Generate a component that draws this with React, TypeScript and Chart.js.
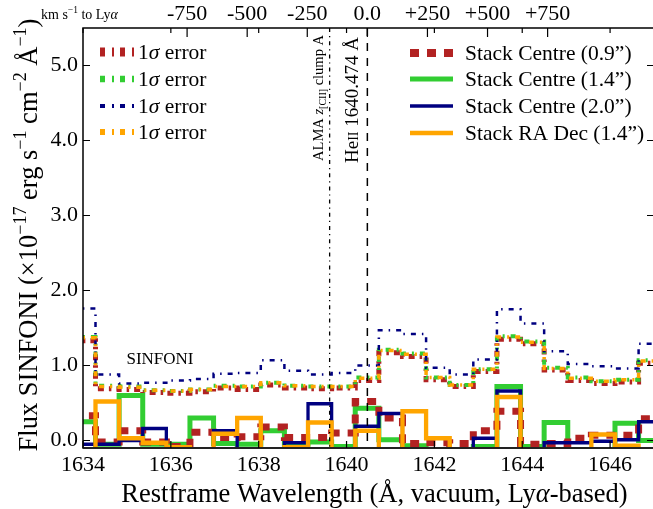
import { useEffect, useRef } from 'react';
import { Chart, registerables } from 'chart.js';

Chart.register(...registerables);

// Rebinned restframe wavelength grid (Å): left edge of the first bin and bin width
const BIN_START = 1633.747;
const BIN_WIDTH = 0.5376;

// Flux per bin (10^-17 erg s^-1 cm^-2 Å^-1)
const fluxCentre09 = [0.33, -0.02, 0.13, -0.02, -0.08, 0.11, 0.04, 0.05, 0.18, 0.04, 0.04, 0.10, 0.52, 0.30, -0.04, -0.03, -0.04, 0.13, 0.39, -0.05, -0.04, 0.03, 0.07, 0.07, 0.29];
const fluxCentre14 = [0.25, -0.05, 0.60, -0.05, -0.05, 0.30, -0.04, -0.05, 0.13, -0.05, -0.02, -0.08, 0.43, 0.01, -0.07, -0.12, -0.12, -0.08, 0.72, -0.08, 0.24, -0.12, -0.12, 0.23, 0.00];
const fluxCentre20 = [-0.05, -0.05, 0.00, 0.16, -0.12, -0.12, 0.13, -0.12, -0.12, -0.03, 0.49, -0.12, 0.19, 0.36, -0.12, -0.12, -0.12, 0.03, 0.66, -0.12, -0.03, -0.03, -0.01, 0.01, 0.25];
const fluxRADec14 = [-0.12, 0.52, 0.03, -0.03, -0.09, -0.12, 0.09, 0.30, -0.12, -0.09, 0.24, -0.12, 0.13, -0.12, 0.39, 0.03, -0.12, -0.12, 0.58, -0.12, -0.12, -0.12, 0.08, -0.07, -0.12];

// 1-sigma noise per bin
const errCentre09 = [1.33, 0.69, 0.68, 0.64, 0.63, 0.65, 0.70, 0.68, 0.74, 0.70, 0.69, 0.70, 0.80, 1.17, 1.12, 0.81, 0.72, 0.92, 1.35, 1.29, 0.94, 0.80, 0.76, 0.78, 1.03];
const errCentre14 = [1.38, 0.73, 0.72, 0.67, 0.66, 0.68, 0.73, 0.72, 0.77, 0.73, 0.72, 0.72, 0.84, 1.21, 1.16, 0.84, 0.74, 0.95, 1.39, 1.32, 0.97, 0.84, 0.79, 0.81, 1.07];
const errCentre20 = [1.76, 0.88, 0.76, 0.77, 0.80, 0.82, 0.89, 0.90, 1.07, 0.93, 0.88, 0.90, 1.00, 1.47, 1.42, 0.97, 0.88, 1.08, 1.75, 1.56, 1.19, 1.02, 0.99, 0.96, 1.29];
const errRADec14 = [1.37, 0.72, 0.71, 0.67, 0.66, 0.68, 0.72, 0.72, 0.77, 0.73, 0.72, 0.72, 0.83, 1.20, 1.15, 0.84, 0.74, 0.95, 1.38, 1.31, 0.96, 0.83, 0.79, 0.81, 1.06];

// Axes
const X_MIN = 1634;
const X_MAX = 1647;
const Y_MIN = -0.1;
const Y_MAX = 5.5;
const X_TICKS = [1634, 1636, 1638, 1640, 1642, 1644, 1646];
const Y_TICKS = [0, 1, 2, 3, 4, 5];
const VEL_TICKS = [-750, -500, -250, 0, 250, 500, 750];

// Reference lines
const HEII_WAVE = 1640.474;
const ALMA_WAVE = 1639.615;
const C_KMS = 299792.458;

const FIREBRICK = '#b22222';
const LIMEGREEN = '#32cd32';
const NAVY = '#000080';
const ORANGE = '#ffa500';
const FONT = '"Liberation Serif", "DejaVu Serif", serif';

const toVel = (lam: number) => (C_KMS * (lam - HEII_WAVE)) / HEII_WAVE;

const binEdges = Array.from({ length: fluxCentre09.length + 1 }, (_, i) => BIN_START + i * BIN_WIDTH);
const toSteps = (vals: number[]) => [
  ...vals.map((v, i) => ({ x: binEdges[i], y: v })),
  { x: binEdges[vals.length], y: vals[vals.length - 1] },
];

type Seg = { t: string; size: number; dy?: number; italic?: boolean };

function richWidth(ctx: CanvasRenderingContext2D, segs: Seg[]) {
  let w = 0;
  for (const s of segs) {
    ctx.font = `${s.italic ? 'italic ' : ''}${s.size}px ${FONT}`;
    w += ctx.measureText(s.t).width;
  }
  return w;
}

function drawRich(ctx: CanvasRenderingContext2D, segs: Seg[], x: number, y: number, align: 'left' | 'center' | 'right') {
  const w = richWidth(ctx, segs);
  let cx = align === 'left' ? x : align === 'center' ? x - w / 2 : x - w;
  ctx.textAlign = 'left';
  for (const s of segs) {
    ctx.font = `${s.italic ? 'italic ' : ''}${s.size}px ${FONT}`;
    ctx.fillText(s.t, cx, y + (s.dy || 0));
    cx += ctx.measureText(s.t).width;
  }
}

type LegendItem = { color: string; width: number; dash: number[]; label: Seg[] };

const sigma = (): Seg[] => [
  { t: '1', size: 21.5 },
  { t: 'σ', size: 21.5, italic: true },
  { t: ' error', size: 21.5 },
];

const errLegend: LegendItem[] = [
  { color: FIREBRICK, width: 9, dash: [5, 7, 2, 6], label: sigma() },
  { color: LIMEGREEN, width: 6.5, dash: [5, 7, 2, 6], label: sigma() },
  { color: NAVY, width: 4, dash: [5, 7, 2, 6], label: sigma() },
  { color: ORANGE, width: 6, dash: [5, 7, 2, 6], label: sigma() },
];

const fluxLegend: LegendItem[] = [
  { color: FIREBRICK, width: 8, dash: [9, 8], label: [{ t: 'Stack Centre (0.9”)', size: 21.5 }] },
  { color: LIMEGREEN, width: 5, dash: [], label: [{ t: 'Stack Centre (1.4”)', size: 21.5 }] },
  { color: NAVY, width: 3.3, dash: [], label: [{ t: 'Stack Centre (2.0”)', size: 21.5 }] },
  { color: ORANGE, width: 4.3, dash: [], label: [{ t: 'Stack RA Dec (1.4”)', size: 21.5 }] },
];

function drawLegend(ctx: CanvasRenderingContext2D, items: LegendItem[], x0: number, x1: number, tx: number, rows: number[]) {
  items.forEach((it, i) => {
    const y = rows[i];
    ctx.save();
    ctx.strokeStyle = it.color;
    ctx.lineWidth = it.width;
    ctx.setLineDash(it.dash);
    ctx.beginPath();
    ctx.moveTo(x0, y);
    ctx.lineTo(x1, y);
    ctx.stroke();
    ctx.restore();
    ctx.fillStyle = '#000';
    ctx.textBaseline = 'middle';
    drawRich(ctx, it.label, tx, y + 1, 'left');
  });
}

const decorations = {
  id: 'decorations',
  afterDatasetsDraw(chart: any) {
    const { ctx, chartArea: a, scales } = chart;
    const xs = scales.x;
    const ys = scales.y;
    const vs = scales.xTop;
    ctx.save();

    // ALMA [CII] redshift and HeII line
    const xa = xs.getPixelForValue(ALMA_WAVE);
    const xh = xs.getPixelForValue(HEII_WAVE);
    ctx.strokeStyle = '#000';
    ctx.lineWidth = 1.3;
    ctx.setLineDash([4, 4, 1.2, 4]);
    ctx.beginPath();
    ctx.moveTo(xa, a.top);
    ctx.lineTo(xa, a.bottom);
    ctx.stroke();
    ctx.setLineDash([8, 7]);
    ctx.lineWidth = 1.5;
    ctx.beginPath();
    ctx.moveTo(xh, a.top);
    ctx.lineTo(xh, a.bottom);
    ctx.stroke();
    ctx.setLineDash([]);

    ctx.fillStyle = '#000';
    ctx.textBaseline = 'alphabetic';
    ctx.save();
    ctx.translate(xa - 7, 35);
    ctx.rotate(-Math.PI / 2);
    drawRich(
      ctx,
      [
        { t: 'ALMA ', size: 14.5 },
        { t: 'z', size: 14.5, italic: true },
        { t: '[CII]', size: 10, dy: 3 },
        { t: ' clump A', size: 14.5 },
      ],
      0,
      0,
      'right'
    );
    ctx.restore();
    ctx.save();
    ctx.translate(xh - 9, 37);
    ctx.rotate(-Math.PI / 2);
    drawRich(
      ctx,
      [
        { t: 'He', size: 19 },
        { t: 'II', size: 14 },
        { t: ' 1640.474 Å', size: 19 },
      ],
      0,
      0,
      'right'
    );
    ctx.restore();

    // instrument label
    drawRich(ctx, [{ t: 'SINFONI', size: 17 }], 160, 364, 'center');

    // frame and inward ticks
    ctx.strokeStyle = '#000';
    ctx.lineWidth = 1.5;
    ctx.strokeRect(a.left, a.top, a.right - a.left, a.bottom - a.top);
    ctx.lineWidth = 2;
    ctx.strokeStyle = '#222';
    ctx.beginPath();
    ctx.moveTo(a.left, a.bottom);
    ctx.lineTo(a.right, a.bottom);
    ctx.stroke();
    ctx.strokeStyle = '#000';
    ctx.lineWidth = 1.2;
    ctx.beginPath();
    for (const v of X_TICKS) {
      const px = xs.getPixelForValue(v);
      ctx.moveTo(px, a.bottom);
      ctx.lineTo(px, a.bottom - 7);
      ctx.moveTo(px, a.top);
      ctx.lineTo(px, a.top + 5);
    }
    for (const v of VEL_TICKS) {
      const px = vs.getPixelForValue(v);
      ctx.moveTo(px, a.top);
      ctx.lineTo(px, a.top + 9);
    }
    for (const v of Y_TICKS) {
      const py = ys.getPixelForValue(v);
      ctx.moveTo(a.left, py);
      ctx.lineTo(a.left + 7, py);
      ctx.moveTo(a.right, py);
      ctx.lineTo(a.right - 7, py);
    }
    ctx.stroke();

    // legends
    drawLegend(ctx, errLegend, 100, 134, 138, [52, 79, 106, 132]);
    drawLegend(ctx, fluxLegend, 410, 453, 465, [53, 79, 106, 133]);

    // axis titles
    ctx.fillStyle = '#000';
    ctx.textBaseline = 'alphabetic';
    drawRich(
      ctx,
      [
        { t: 'Restframe Wavelength (Å, vacuum, Ly', size: 26.5 },
        { t: 'α', size: 26.5, italic: true },
        { t: '-based)', size: 26.5 },
      ],
      (a.left + a.right) / 2 + 6,
      502,
      'center'
    );
    ctx.save();
    ctx.translate(37, (a.top + a.bottom) / 2 - 3);
    ctx.rotate(-Math.PI / 2);
    drawRich(
      ctx,
      [
        { t: 'Flux SINFONI (×10', size: 26.5 },
        { t: '−17', size: 18, dy: -11 },
        { t: ' erg s', size: 26.5 },
        { t: '−1', size: 18, dy: -11 },
        { t: ' cm', size: 26.5 },
        { t: '−2', size: 18, dy: -11 },
        { t: ' Å', size: 26.5 },
        { t: '−1', size: 18, dy: -11 },
        { t: ')', size: 26.5 },
      ],
      0,
      0,
      'center'
    );
    ctx.restore();

    drawRich(
      ctx,
      [
        { t: 'km s', size: 14 },
        { t: '−1', size: 9.5, dy: -6 },
        { t: ' to Ly', size: 14 },
        { t: 'α', size: 14, italic: true },
      ],
      41,
      19,
      'left'
    );

    ctx.restore();
  },
};

const stepLine = (label: string, vals: number[], color: string, width: number, dash: number[], order: number) => ({
  label,
  data: toSteps(vals),
  borderColor: color,
  backgroundColor: color,
  borderWidth: width,
  borderDash: dash,
  borderCapStyle: 'butt' as const,
  borderJoinStyle: 'miter' as const,
  stepped: true,
  pointRadius: 0,
  fill: false,
  clip: 0,
  order,
});

export default function App() {
  const ref = useRef<HTMLCanvasElement>(null);

  useEffect(() => {
    const canvas = ref.current;
    if (!canvas) return;
    const chart = new Chart(canvas, {
      type: 'line',
      data: {
        datasets: [
          stepLine('1σ error', errCentre09, FIREBRICK, 5, [6, 5, 2.5, 5], 10),
          stepLine('1σ error', errCentre14, LIMEGREEN, 4, [5, 6, 2, 6], 9),
          stepLine('1σ error', errCentre20, NAVY, 2.5, [5, 6, 1.5, 6], 8),
          stepLine('1σ error', errRADec14, ORANGE, 3.5, [5, 6, 2, 6], 7),
          stepLine('Stack Centre (1.4”)', fluxCentre14, LIMEGREEN, 5, [], 4),
          stepLine('Stack Centre (0.9”)', fluxCentre09, FIREBRICK, 7, [9, 8], 3),
          stepLine('Stack Centre (2.0”)', fluxCentre20, NAVY, 3.3, [], 2),
          stepLine('Stack RA Dec (1.4”)', fluxRADec14, ORANGE, 4.3, [], 1),
        ] as any,
      },
      options: {
        responsive: false,
        animation: false,
        devicePixelRatio: 1,
        layout: { padding: { left: 0, right: 8, top: 0, bottom: 0 } },
        plugins: { legend: { display: false }, tooltip: { enabled: false } },
        scales: {
          x: {
            type: 'linear',
            position: 'bottom',
            min: X_MIN,
            max: X_MAX,
            grid: { display: false, drawTicks: false },
            border: { display: false },
            afterBuildTicks: (s: any) => {
              s.ticks = X_TICKS.map((v) => ({ value: v }));
            },
            afterFit: (s: any) => {
              s.height = 61;
            },
            ticks: {
              color: '#000',
              padding: 4,
              maxRotation: 0,
              autoSkip: false,
              font: { family: FONT, size: 22 },
              callback: (v: any) => String(v),
            },
          },
          xTop: {
            type: 'linear',
            position: 'top',
            min: toVel(X_MIN),
            max: toVel(X_MAX),
            grid: { display: false, drawTicks: false },
            border: { display: false },
            afterBuildTicks: (s: any) => {
              s.ticks = VEL_TICKS.map((v) => ({ value: v }));
            },
            afterFit: (s: any) => {
              s.height = 28;
            },
            ticks: {
              color: '#000',
              padding: 1,
              maxRotation: 0,
              autoSkip: false,
              font: { family: FONT, size: 22 },
              callback: (v: any) => (v === 0 ? '0.0' : v > 0 ? `+${v}` : `${v}`),
            },
          },
          y: {
            type: 'linear',
            position: 'left',
            min: Y_MIN,
            max: Y_MAX,
            grid: { display: false, drawTicks: false },
            border: { display: false },
            afterBuildTicks: (s: any) => {
              s.ticks = Y_TICKS.map((v) => ({ value: v }));
            },
            afterFit: (s: any) => {
              s.width = 83;
            },
            ticks: {
              color: '#000',
              padding: 5,
              autoSkip: false,
              font: { family: FONT, size: 22 },
              callback: (v: any) => Number(v).toFixed(1),
            },
          },
        },
      },
      plugins: [decorations],
    });
    return () => chart.destroy();
  }, []);

  return (
    <div
      style={{
        position: 'fixed',
        left: 0,
        top: 0,
        width: 653,
        height: 509,
        overflow: 'hidden',
        background: '#fff',
      }}
    >
      <canvas ref={ref} width={662} height={509} style={{ display: 'block' }} />
    </div>
  );
}
